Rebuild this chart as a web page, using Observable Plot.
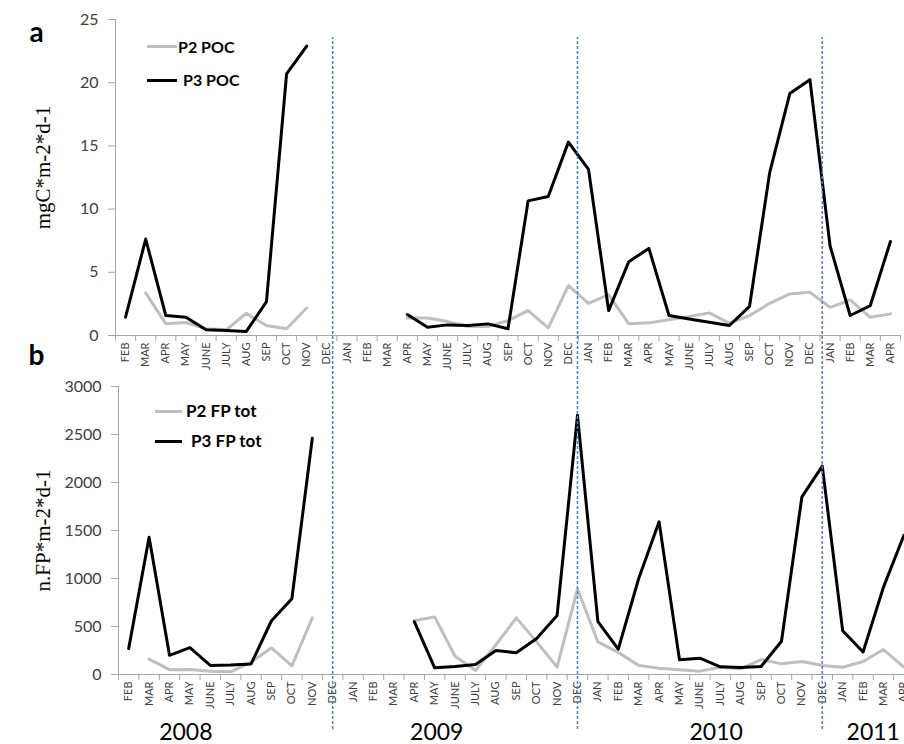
<!DOCTYPE html>
<html><head><meta charset="utf-8">
<script src="https://cdn.jsdelivr.net/npm/d3@7"></script>
<script src="https://cdn.jsdelivr.net/npm/@observablehq/plot@0.6"></script>
<style>
body{margin:0;background:#fff;}
#wrap{position:relative;width:904px;height:744px;overflow:hidden;font-family:Lato,sans-serif;background:#fff;}
.panel{position:absolute;left:0;}
.leg{position:absolute;font-weight:bold;font-size:16px;line-height:20px;color:#000;white-space:nowrap;font-family:Lato,sans-serif;}
.legline{position:absolute;height:3px;}
</style>
</head><body><div id="wrap"></div>
<script>
// ---- data ----
const months = ["FEB","MAR","APR","MAY","JUNE","JULY","AUG","SEP","OCT","NOV","DEC",
  "JAN","FEB","MAR","APR","MAY","JUNE","JULY","AUG","SEP","OCT","NOV","DEC",
  "JAN","FEB","MAR","APR","MAY","JUNE","JULY","AUG","SEP","OCT","NOV","DEC",
  "JAN","FEB","MAR","APR"];
const years = ["2008","2009","2010","2011"];
const yearPos = [2.8, 15.1, 28.8, 36.5];     // month-index position of each year label
const decIdx = [10, 22, 34];                 // December positions (year dividers)

const p2POC = [null,3.37,0.92,1.03,0.53,0.45,1.76,0.79,0.53,2.18,null,
  null,null,null,1.39,1.39,1.10,0.71,0.71,1.18,1.97,0.61,3.94,
  2.55,3.23,0.92,1.00,1.24,1.50,1.79,0.97,1.58,2.55,3.29,3.42,
  2.23,2.81,1.44,1.71];
const p3POC = [1.45,7.63,1.58,1.44,0.45,0.40,0.32,2.68,20.7,22.9,null,
  null,null,null,1.66,0.66,0.84,0.79,0.92,0.53,10.65,10.99,15.3,
  13.15,1.97,5.84,6.89,1.58,1.31,1.05,0.79,2.31,12.88,19.14,20.24,
  7.10,1.58,2.37,7.44];
const p2FP = [null,160,50,52,35,28,128,278,90,590,null,
  null,null,null,560,600,190,42,310,590,340,78,890,
  340,230,95,66,49,35,76,59,156,111,135,94,
  76,135,260,76];
const p3FP = [270,1430,200,280,95,100,110,560,790,2460,null,
  null,null,null,550,70,83,104,250,226,375,615,2700,
  550,265,1000,1590,153,170,80,73,83,347,1850,2170,
  455,235,910,1450];
const pocTicks = [0,5,10,15,20,25];
const fpTicks = [0,500,1000,1500,2000,2500,3000];

// ---- styles ----
const axisGray = "#a6a6a6";
const textGray = "#404040";
const p2Color = "#bfbfbf";
const p3Color = "#000000";
const divColor = "#4f81bd";

const idx = d3.range(months.length);
const bounds = d3.range(months.length + 1).map(i => i - 0.5);

const wrap = document.getElementById("wrap");

function baseMarks(p2, p3, yTicks, xMax) {
  return [
    Plot.ruleY([0], {stroke: axisGray, strokeWidth: 1}),
    Plot.ruleX([-0.5], {stroke: axisGray, strokeWidth: 1}),
    Plot.axisY({ticks: yTicks, tickFormat: d => String(d), tickSize: 7, tickPadding: 10, stroke: axisGray, fill: textGray, fontSize: 16, label: null}),
    Plot.axisX({ticks: bounds.filter(b => b <= xMax + 0.01), tickFormat: () => "", tickSize: 6, stroke: axisGray, label: null}),
    Plot.axisX({ticks: idx, tickFormat: i => months[i], tickRotate: -90, tickSize: 0, tickPadding: 7, fontSize: 11, fill: textGray, label: null}),
    Plot.line(idx, {x: d => d, y: d => p2[d], stroke: p2Color, strokeWidth: 3}),
    Plot.line(idx, {x: d => d, y: d => p3[d], stroke: p3Color, strokeWidth: 3})
  ];
}

// ---- panel a ----
const topPlot = Plot.plot({
  width: 904, height: 380,
  marginLeft: 115, marginRight: 4, marginTop: 19, marginBottom: 45,
  x: {type: "linear", domain: [-0.5, 38.5], axis: null},
  y: {domain: [0, 25], axis: null},
  style: {fontFamily: "Lato, sans-serif", overflow: "visible", background: "transparent"},
  marks: [
    ...baseMarks(p2POC, p3POC, pocTicks, 38.5),
    Plot.text(["mgC*m-2*d-1"], {text: d => d, frameAnchor: "left", textAnchor: "middle", lineAnchor: "middle", rotate: -90, dx: -72, dy: -10, fontFamily: "Liberation Serif", fontSize: 21, fill: "#000"}),
    Plot.text(["a"], {text: d => d, frameAnchor: "top-left", textAnchor: "middle", lineAnchor: "middle", dx: -79, dy: 14, fontSize: 28, fontWeight: "bold", fill: "#000"})
  ]
});

// ---- panel b ----
const bottomPlot = Plot.plot({
  width: 904, height: 404,
  marginLeft: 118, marginRight: 0, marginTop: 46, marginBottom: 70,
  x: {type: "linear", domain: [-0.5, 38.03], axis: null},
  y: {domain: [0, 3000], axis: null},
  style: {fontFamily: "Lato, sans-serif", overflow: "visible", background: "transparent"},
  marks: [
    ...baseMarks(p2FP, p3FP, fpTicks, 38.03),
    Plot.text(["n.FP*m-2*d-1"], {text: d => d, frameAnchor: "left", textAnchor: "middle", lineAnchor: "middle", rotate: -90, dx: -75, dy: 0, fontFamily: "Liberation Serif", fontSize: 21, fill: "#000"}),
    Plot.text(["b"], {text: d => d, frameAnchor: "top-left", textAnchor: "middle", lineAnchor: "middle", dx: -82, dy: -30, fontSize: 28, fontWeight: "bold", fill: "#000"}),
    Plot.text(years, {text: d => d, x: (d, i) => yearPos[i], frameAnchor: "bottom", lineAnchor: "middle", dy: 58, fontSize: 23, fill: "#000"}),
    Plot.ruleX(decIdx, {x: d => d, y1: -573, y2: 6635, stroke: divColor, strokeWidth: 1.5, strokeDasharray: "3,2"})
  ]
});

const d1 = document.createElement("div"); d1.className = "panel"; d1.style.top = "0px"; d1.appendChild(topPlot);
const d2 = document.createElement("div"); d2.className = "panel"; d2.style.top = "340px"; d2.appendChild(bottomPlot);
wrap.appendChild(d1); wrap.appendChild(d2);

// ---- legends ----
function legend(items) {
  for (const it of items) {
    const l = document.createElement("div");
    l.className = "legline";
    Object.assign(l.style, {left: it.lx + "px", top: (it.y - 1.5) + "px", width: it.lw + "px", background: it.color});
    wrap.appendChild(l);
    const t = document.createElement("div");
    t.className = "leg";
    t.textContent = it.label;
    Object.assign(t.style, {left: it.tx + "px", top: (it.y - 10) + "px", fontSize: it.fs + "px"});
    wrap.appendChild(t);
  }
}
legend([
  {label: "P2 POC", color: p2Color, lx: 147, lw: 30, tx: 178, y: 46.5, fs: 16},
  {label: "P3 POC", color: p3Color, lx: 147, lw: 30, tx: 183, y: 80, fs: 16},
  {label: "P2 FP tot", color: p2Color, lx: 155, lw: 27, tx: 186, y: 411, fs: 17},
  {label: "P3 FP tot", color: p3Color, lx: 155, lw: 27, tx: 191, y: 441, fs: 17}
]);
</script></body></html>
